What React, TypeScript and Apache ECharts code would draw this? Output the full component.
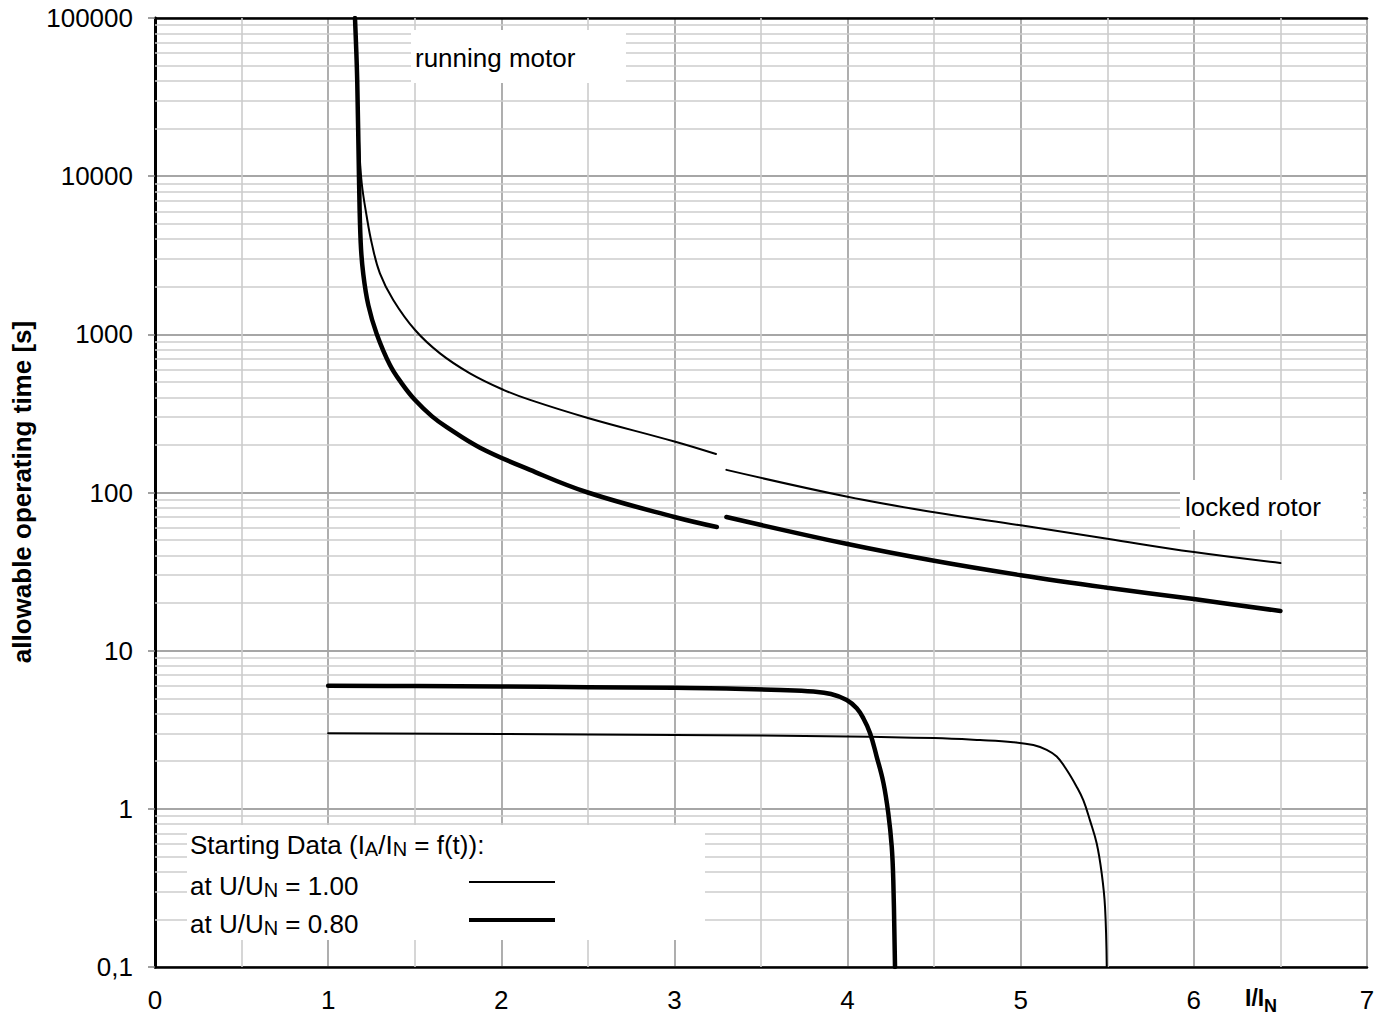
import React, { useEffect, useRef } from "react";
import * as echarts from "echarts";

// ---- data (x = I/IN, y = allowable operating time [s]) ----
// running motor / locked rotor, U/UN = 1.00 (thin)
const runThinA: [number, number][] = [
  [1.155, 100000], [1.168, 40000], [1.18, 15000], [1.194, 9020], [1.223, 5540],
  [1.252, 3760], [1.299, 2430], [1.376, 1650], [1.502, 1065], [1.646, 758],
  [1.819, 567], [2.012, 446], [2.166, 385], [2.5, 296], [3.0, 210], [3.24, 175],
];
const runThinB: [number, number][] = [
  [3.3, 139], [4.0, 94], [4.5, 75], [5.0, 62], [5.5, 51], [6.0, 42], [6.5, 35.8],
];
// running motor / locked rotor, U/UN = 0.80 (thick)
const runThickA: [number, number][] = [
  [1.155, 100000], [1.168, 40000], [1.178, 10000], [1.188, 3800], [1.203, 2400],
  [1.232, 1530], [1.28, 1010], [1.357, 640], [1.425, 490], [1.502, 384], [1.6, 303],
  [1.685, 259], [1.877, 192], [2.166, 139], [2.5, 100], [3.0, 70], [3.245, 60.5],
];
const runThickB: [number, number][] = [
  [3.3, 70], [4.0, 47.2], [4.5, 37], [5.0, 30], [5.5, 25], [6.0, 21.2], [6.5, 17.8],
];
// starting data I_A/I_N = f(t)
const startThin: [number, number][] = [
  [1.0, 3.0], [2.0, 2.97], [3.0, 2.93], [4.0, 2.87], [4.5, 2.8], [4.765, 2.72],
  [4.957, 2.64], [5.073, 2.53], [5.15, 2.36], [5.208, 2.14], [5.266, 1.76],
  [5.323, 1.38], [5.362, 1.13], [5.4, 0.845], [5.439, 0.603], [5.468, 0.389],
  [5.487, 0.239], [5.497, 0.1],
];
const startThick: [number, number][] = [
  [1.0, 6.0], [1.5, 5.97], [2.0, 5.93], [2.5, 5.88], [3.0, 5.82], [3.3, 5.77],
  [3.61, 5.64], [3.802, 5.51], [3.904, 5.32], [3.995, 4.88], [4.053, 4.32],
  [4.091, 3.74], [4.13, 3.01], [4.168, 2.14], [4.207, 1.46], [4.235, 0.94],
  [4.255, 0.578], [4.264, 0.355], [4.274, 0.1],
];

// axis ranges / ticks
const xMin = 0;
const xMax = 7;
const yMin = 0.1;
const yMax = 100000;
const decades = [0.1, 1, 10, 100, 1000, 10000];
const minorMultipliers = [2, 3, 4, 5, 6, 7, 8, 9];
const xMinorValues = [0.5, 1.5, 2.5, 3.5, 4.5, 5.5, 6.5];

const FONT = "'Liberation Sans', Arial, sans-serif";

export default function App() {
  const ref = useRef<HTMLDivElement>(null);

  useEffect(() => {
    if (!ref.current) return;
    const chart = echarts.init(ref.current, null, { renderer: "svg" });

    const yMinorValues: number[] = [];
    decades.forEach((d) =>
      minorMultipliers.forEach((m) => yMinorValues.push(Number((d * m).toPrecision(6))))
    );

    const minorLine = { color: "#cccccc", width: 1.6, type: "solid" as const };

    const thin = { color: "#000", width: 2, cap: "round" as const };
    const thick = { color: "#000", width: 4.5, cap: "round" as const };

    const curve = (name: string, data: [number, number][], ls: any) => ({
      name,
      type: "line",
      xAxisIndex: 0,
      yAxisIndex: 0,
      data,
      symbol: "none",
      smooth: 0.4,
      lineStyle: ls,
      z: 5,
      silent: true,
    });

    const subRich = {
      sub: {
        fontSize: 20,
        lineHeight: 20,
        verticalAlign: "bottom",
        fontFamily: FONT,
        fill: "#000",
      },
    };

    const option: any = {
      animation: false,
      backgroundColor: "#ffffff",
      textStyle: { fontFamily: FONT },
      grid: { left: 155, top: 18, right: 22, bottom: 48, containLabel: false },
      xAxis: [
        {
          type: "value",
          min: xMin,
          max: xMax,
          interval: 1,
          position: "bottom",
          axisLine: { show: true, lineStyle: { color: "#000", width: 2.5 } },
          axisTick: { show: false },
          axisLabel: { color: "#000", fontSize: 26, fontFamily: FONT, margin: 20 },
          splitLine: { show: true, lineStyle: { color: "#a6a6a6", width: 1.8 } },
        },
        {
          type: "value",
          min: xMin,
          max: xMax,
          position: "top",
          axisLine: { show: true, lineStyle: { color: "#000", width: 2.5 } },
          axisTick: { show: false },
          axisLabel: { show: false },
          splitLine: { show: false },
        },
      ],
      yAxis: [
        {
          type: "log",
          logBase: 10,
          min: yMin,
          max: yMax,
          splitNumber: 6,
          position: "left",
          axisLine: { show: true, lineStyle: { color: "#808080", width: 2.5 } },
          axisTick: { show: true, length: 7, lineStyle: { color: "#808080", width: 1.5 } },
          axisLabel: {
            color: "#000",
            fontSize: 26,
            fontFamily: FONT,
            margin: 22,
            formatter: (v: number) => (v < 0.5 ? "0,1" : String(Math.round(v))),
          },
          splitLine: { show: true, lineStyle: { color: "#a6a6a6", width: 1.8 } },
        },
        {
          type: "log",
          logBase: 10,
          min: yMin,
          max: yMax,
          position: "right",
          axisLine: { show: true, lineStyle: { color: "#000", width: 3 } },
          axisTick: { show: false },
          axisLabel: { show: false },
          splitLine: { show: false },
        },
      ],
      series: [
        {
          name: "minorGrid",
          type: "line",
          xAxisIndex: 0,
          yAxisIndex: 0,
          data: [],
          z: 1,
          silent: true,
          markLine: {
            silent: true,
            symbol: "none",
            label: { show: false },
            lineStyle: minorLine,
            data: [
              ...yMinorValues.map((v) => ({ yAxis: v })),
              ...xMinorValues.map((v) => ({ xAxis: v })),
            ],
          },
        },
        curve("U/UN = 1.00 running A", runThinA, thin),
        curve("U/UN = 1.00 running B", runThinB, thin),
        curve("U/UN = 0.80 running A", runThickA, thick),
        curve("U/UN = 0.80 running B", runThickB, thick),
        curve("U/UN = 1.00 starting", startThin, thin),
        curve("U/UN = 0.80 starting", startThick, thick),
      ],
      graphic: [
        // y axis title
        {
          type: "text",
          x: 22,
          y: 492,
          rotation: Math.PI / 2,
          z: 100,
          style: {
            text: "allowable operating time [s]",
            fontSize: 26,
            fontWeight: "bold",
            fontFamily: FONT,
            fill: "#000",
            align: "center",
            verticalAlign: "middle",
          },
        },
        // x axis title: I/I with subscript N
        {
          type: "text",
          x: 1245,
          y: 998,
          z: 100,
          style: {
            text: "I/I",
            fontSize: 23,
            fontWeight: "bold",
            fontFamily: FONT,
            fill: "#000",
            align: "left",
            verticalAlign: "middle",
          },
        },
        {
          type: "text",
          x: 1264,
          y: 1006,
          z: 100,
          style: {
            text: "N",
            fontSize: 18,
            fontWeight: "bold",
            fontFamily: FONT,
            fill: "#000",
            align: "left",
            verticalAlign: "middle",
          },
        },
        // running motor label
        {
          type: "rect",
          z: 100,
          shape: { x: 411, y: 30, width: 215, height: 53 },
          style: { fill: "#fff" },
        },
        {
          type: "text",
          x: 415,
          y: 58,
          z: 101,
          style: {
            text: "running motor",
            fontSize: 26,
            fontFamily: FONT,
            fill: "#000",
            align: "left",
            verticalAlign: "middle",
          },
        },
        // locked rotor label
        {
          type: "rect",
          z: 100,
          shape: { x: 1180, y: 480, width: 183, height: 50 },
          style: { fill: "#fff" },
        },
        {
          type: "text",
          x: 1185,
          y: 507,
          z: 101,
          style: {
            text: "locked rotor",
            fontSize: 26,
            fontFamily: FONT,
            fill: "#000",
            align: "left",
            verticalAlign: "middle",
          },
        },
        // legend box
        {
          type: "rect",
          z: 100,
          shape: { x: 187, y: 825, width: 518, height: 115 },
          style: { fill: "#fff" },
        },
        {
          type: "text",
          x: 190,
          y: 845,
          z: 101,
          style: {
            text: "Starting Data (I{sub|A}/I{sub|N} = f(t)):",
            fontSize: 26,
            lineHeight: 28,
            fontFamily: FONT,
            fill: "#000",
            align: "left",
            verticalAlign: "middle",
            rich: subRich,
          },
        },
        {
          type: "text",
          x: 190,
          y: 886,
          z: 101,
          style: {
            text: "at U/U{sub|N} = 1.00",
            fontSize: 26,
            lineHeight: 28,
            fontFamily: FONT,
            fill: "#000",
            align: "left",
            verticalAlign: "middle",
            rich: subRich,
          },
        },
        {
          type: "text",
          x: 190,
          y: 924,
          z: 101,
          style: {
            text: "at U/U{sub|N} = 0.80",
            fontSize: 26,
            lineHeight: 28,
            fontFamily: FONT,
            fill: "#000",
            align: "left",
            verticalAlign: "middle",
            rich: subRich,
          },
        },
        {
          type: "line",
          z: 101,
          shape: { x1: 469, y1: 882, x2: 555, y2: 882 },
          style: { stroke: "#000", lineWidth: 2 },
        },
        {
          type: "line",
          z: 101,
          shape: { x1: 469, y1: 920, x2: 555, y2: 920 },
          style: { stroke: "#000", lineWidth: 4 },
        },
      ],
    };

    chart.setOption(option);
    return () => chart.dispose();
  }, []);

  return (
    <div
      ref={ref}
      style={{ position: "fixed", left: 0, top: 0, width: 1389, height: 1015, background: "#fff" }}
    />
  );
}
